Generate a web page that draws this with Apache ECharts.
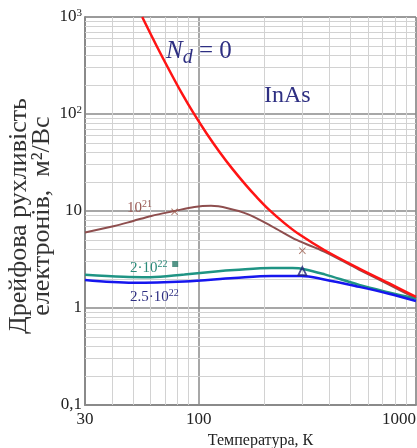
<!DOCTYPE html>
<html>
<head>
<meta charset="utf-8">
<script src="https://cdn.jsdelivr.net/npm/echarts@6/dist/echarts.min.js"></script>
<style>
  html, body { margin: 0; padding: 0; background: #fff; }
  #chart { width: 417px; height: 448px; }
</style>
</head>
<body>
<div id="chart"></div>
<script>
// N_d = 0
const tRed = [55, 64, 74, 84, 94, 109, 125, 143, 165, 185, 210, 248, 290, 380, 548, 750, 1000];
const muRed = [1000, 506, 271, 161, 105, 62.6, 40.4, 27.2, 18.5, 13.9, 10.4, 7.5, 5.75, 3.94, 2.55, 1.8, 1.3];
// 10^21
const tBrown = [30, 41, 50, 60.6, 77.5, 95.6, 114, 136, 168, 216, 284, 378, 548, 750, 1000];
const muBrown = [6.0, 7.0, 7.9, 8.9, 10, 11, 11.3, 10.7, 9.3, 7.0, 5.0, 3.82, 2.48, 1.74, 1.26];
// 2*10^22
const tTeal = [30, 45, 60, 86, 120, 146, 216, 270, 310, 380, 548, 750, 1000];
const muTeal = [2.2, 2.1, 2.08, 2.22, 2.38, 2.46, 2.58, 2.58, 2.5, 2.22, 1.73, 1.45, 1.25];
// 2.5*10^22
const tBlue = [30, 50, 86, 146, 216, 297, 378, 548, 750, 1000];
const muBlue = [1.94, 1.82, 1.88, 2.04, 2.14, 2.14, 1.97, 1.65, 1.4, 1.18];
// experimental points
const ptsCross = [[77.5, 9.8], [300, 3.9]];
const ptsSquare = [[78, 2.84]];
const ptsTriangle = [[300, 2.4]];
// minor grid lines
const xMinorGrid = [40, 50, 60, 70, 80, 90, 200, 300, 400, 500, 600, 700, 800, 900];
const yMinorGrid = [0.2, 0.3, 0.4, 0.5, 0.6, 0.7, 0.8, 0.9, 2, 3, 4, 5, 6, 7, 8, 9,
  20, 30, 40, 50, 60, 70, 80, 90, 200, 300, 400, 500, 600, 700, 800, 900];

const zip = (a, b) => a.map((v, i) => [v, b[i]]);
const serif = "Liberation Serif";
const navy = "#2e2f82";

const chart = echarts.init(document.getElementById("chart"));
const option = {
  backgroundColor: "#fff",
  animation: false,
  grid: {
    left: 85, right: 1, top: 17, bottom: 43,
    outerBoundsMode: "none",
    show: true, borderColor: "#9a9a9a", borderWidth: 1
  },
  xAxis: {
    type: "log", min: 30, max: 1000,
    name: "Температура, К",
    nameLocation: "middle", nameGap: 24,
    nameTextStyle: { fontFamily: serif, fontSize: 16, color: "#222", padding: [0, 0, 0, 20] },
    axisLine: { lineStyle: { color: "#8a8a8a", width: 2 } },
    axisTick: { show: false },
    axisLabel: {
      fontFamily: serif, fontSize: 17, color: "#222", margin: 6,
      alignMaxLabel: "right", showMinLabel: true, showMaxLabel: true,
      formatter: (v) => String(Math.round(v))
    },
    splitLine: { show: true, lineStyle: { color: "#8a8a8a", width: 1.5 } }
  },
  yAxis: {
    type: "log", min: 0.1, max: 1000,
    axisLine: { lineStyle: { color: "#8a8a8a", width: 2 } },
    axisTick: { show: false },
    axisLabel: {
      fontFamily: serif, fontSize: 17, color: "#222", margin: 3,
      formatter: (v) => {
        if (v < 0.5) return "0,1";
        if (v >= 999) return "10{s|3}";
        if (v >= 99) return "10{s|2}";
        return String(Math.round(v));
      },
      rich: { s: { fontFamily: serif, fontSize: 11, color: "#222", verticalAlign: "top", padding: [0, 0, 8, 0] } }
    },
    splitLine: { show: true, lineStyle: { color: "#8a8a8a", width: 1.5 } }
  },
  series: [
    {
      type: "line", data: [], silent: true, z: 1,
      markLine: {
        silent: true, symbol: "none", label: { show: false }, z: 1,
        lineStyle: { color: "#d2d2d2", width: 1, type: "solid" },
        data: xMinorGrid.map((v) => ({ xAxis: v })).concat(yMinorGrid.map((v) => ({ yAxis: v })))
      }
    },
    {
      name: "10^21", type: "line", data: zip(tBrown, muBrown), smooth: 0.35,
      symbol: "none", lineStyle: { color: "#8e4e4e", width: 2 }, z: 3
    },
    {
      name: "2·10^22", type: "line", data: zip(tTeal, muTeal), smooth: 0.35,
      symbol: "none", lineStyle: { color: "#1f9484", width: 2.5 }, z: 3
    },
    {
      name: "2.5·10^22", type: "line", data: zip(tBlue, muBlue), smooth: 0.35,
      symbol: "none", lineStyle: { color: "#1616ee", width: 2.5 }, z: 3
    },
    {
      name: "Nd=0", type: "line", data: zip(tRed, muRed), smooth: 0.35,
      symbol: "none", lineStyle: { color: "#ff1414", width: 2.5 }, z: 4
    },
    {
      type: "scatter", data: ptsCross, z: 5,
      symbol: "path://M0,1L1,0L5,4L9,0L10,1L6,5L10,9L9,10L5,6L1,10L0,9L4,5Z",
      symbolSize: 7, itemStyle: { color: "#9a5a4a" }
    },
    {
      type: "scatter", data: ptsSquare, z: 5,
      symbol: "rect", symbolSize: 6, itemStyle: { color: "#2a7a6a" }
    },
    {
      type: "scatter", data: ptsTriangle, z: 5,
      symbol: "triangle", symbolSize: 8,
      itemStyle: { color: "rgba(0,0,0,0)", borderColor: "#23237a", borderWidth: 1.8 }
    }
  ],
  graphic: [
    {
      // y axis title
      type: "text", x: 31, y: 216, rotation: Math.PI / 2, z: 10,
      style: {
        text: "Дрейфова рухливість\nелектронів,  м²/Вс",
        fontFamily: serif, fontSize: 26, lineHeight: 23, fill: "#333",
        align: "center", verticalAlign: "middle"
      }
    },
    {
      type: "text", left: 166, top: 39, z: 10,
      style: {
        text: "{n|N}{d|d}{e| = 0}",
        rich: {
          n: { fontFamily: serif, fontStyle: "italic", fontSize: 25, fill: navy },
          d: { fontFamily: serif, fontStyle: "italic", fontSize: 20, fill: navy, padding: [13, 0, 0, 0] },
          e: { fontFamily: serif, fontSize: 25, fill: navy }
        }
      }
    },
    {
      type: "text", left: 264, top: 84, z: 10,
      style: { text: "InAs", fontFamily: serif, fontSize: 24, fill: navy }
    },
    {
      type: "text", left: 127, top: 199, z: 10,
      style: {
        text: "10{s|21}",
        fontFamily: serif, fontSize: 15, fill: "#9a5a55",
        rich: { s: { fontFamily: serif, fontSize: 10, fill: "#9a5a55", padding: [0, 0, 8, 0] } }
      }
    },
    {
      type: "text", left: 130, top: 259, z: 10,
      style: {
        text: "2·10{s|22}",
        fontFamily: serif, fontSize: 15, fill: "#2a8a7a",
        rich: { s: { fontFamily: serif, fontSize: 10, fill: "#2a8a7a", padding: [0, 0, 8, 0] } }
      }
    },
    {
      type: "text", left: 130, top: 288, z: 10,
      style: {
        text: "2.5·10{s|22}",
        fontFamily: serif, fontSize: 15, fill: navy,
        rich: { s: { fontFamily: serif, fontSize: 10, fill: navy, padding: [0, 0, 8, 0] } }
      }
    }
  ]
};
chart.setOption(option);
</script>
</body>
</html>
